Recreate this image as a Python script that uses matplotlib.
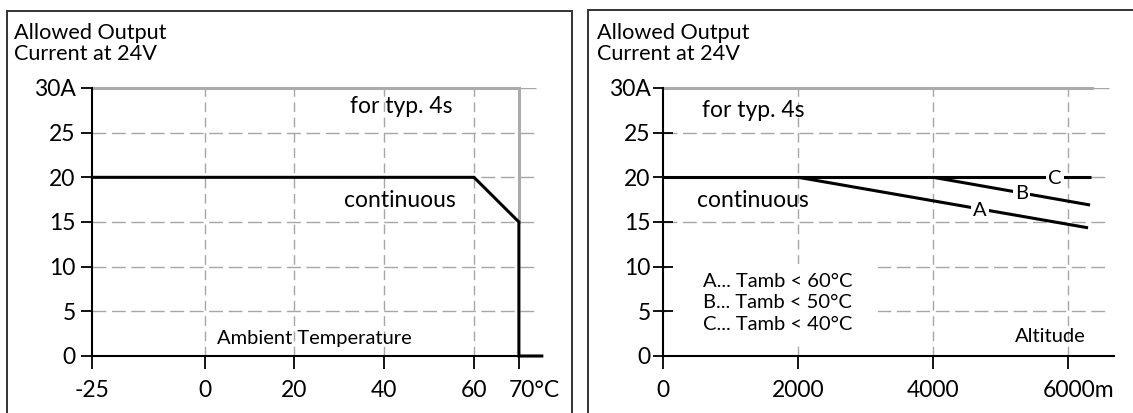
import matplotlib
matplotlib.use("Agg")
import matplotlib.pyplot as plt
from matplotlib.patches import Rectangle

plt.rcParams['font.family'] = ['Lato', 'DejaVu Sans']

# ---- data: left chart (ambient temperature) ----
temp_ticks = [-25, 0, 20, 40, 60, 70]
temp_labels = ["-25", "0", "20", "40", "60", "70°C"]
temp_cont_x = [-25, 60, 70, 70, 75.1]
temp_cont_y = [20, 20, 15, 0, 0]
temp_peak_x = [-25, 70, 70]
temp_peak_y = [30, 30, 15]

# ---- data: right chart (altitude) ----
alt_ticks = [0, 2000, 4000, 6000]
alt_labels = ["0", "2000", "4000", "6000m"]
alt_a_x = [2000, 6290]
alt_a_y = [20, 14.35]
alt_b_x = [4000, 6320]
alt_b_y = [20, 16.9]
alt_c_x = [0, 6330]
alt_c_y = [20, 20]
alt_peak_x = [0, 6350]
alt_peak_y = [30, 30]

cur_ticks = [0, 5, 10, 15, 20, 25, 30]
cur_labels = ["0", "5", "10", "15", "20", "25", "30A"]
legend_lines = ["A... Tamb < 60°C", "B... Tamb < 50°C", "C... Tamb < 40°C"]

W, H = 1133, 413
fig = plt.figure(figsize=(W / 100, H / 100), dpi=100)

GRID = '#a6a6a6'
PEAK = '#ababab'
BIG = 16.5
SMALL = 14.5
TITLE = 15.6
HDASH = (0, (10, 4))
VDASH = (0, (7, 4))

# frames
fig.add_artist(Rectangle((7 / W, -0.1), (572 - 7) / W, 1 - 11 / H + 0.1,
                         transform=fig.transFigure, fill=False, ec='#333333', lw=1.4))
fig.add_artist(Rectangle((587.5 / W, -0.1), 0.5, 1 - 9.5 / H + 0.1,
                         transform=fig.transFigure, fill=False, ec='#333333', lw=1.4))

for x0 in [13.8, 597]:
    fig.text(x0 / W, 1 - 39 / H, "Allowed Output", fontsize=TITLE, va='baseline', ha='left')
    fig.text(x0 / W, 1 - 60 / H, "Current at 24V", fontsize=TITLE, va='baseline', ha='left')


def style_axes(ax, xlim, ticks, labels, unit_shift, ytick_dir):
    ax.set_xlim(*xlim)
    ax.set_ylim(0, 30)
    for s in ['top', 'right']:
        ax.spines[s].set_visible(False)
    for s in ['left', 'bottom']:
        ax.spines[s].set_linewidth(1.5)
        ax.spines[s].set_zorder(4)
    ax.set_yticks(cur_ticks, cur_labels)
    ax.set_xticks(ticks, [''] * len(ticks))
    ax.tick_params(axis='y', direction=ytick_dir, length=14 if ytick_dir == 'inout' else 8,
                   width=1.3, labelsize=BIG, pad=4 if ytick_dir == 'out' else 2)
    ax.tick_params(axis='x', direction='out', length=9, width=1.3)
    for i, (t, lab) in enumerate(zip(ticks, labels)):
        dx = unit_shift if i == len(ticks) - 1 else 0
        ax.annotate(lab, xy=(t, 0), xycoords=('data', 'axes fraction'),
                    xytext=(dx, -24.5), textcoords='offset points',
                    ha='center', va='center', fontsize=BIG, annotation_clip=False)
    ax.patch.set_visible(False)


# ---- left chart ----
ax1 = fig.add_axes([92.4 / W, 1 - 356 / H, (541.8 - 92.4) / W, (356 - 88) / H])
style_axes(ax1, (-25, 75.1), temp_ticks, temp_labels, 11, 'out')
ax1.hlines(cur_ticks[1:-1], -25, 73.9, colors=GRID, lw=1.0, linestyles=HDASH, zorder=1)
ax1.hlines([30], 70, 73.9, colors=GRID, lw=1.0, zorder=1)
ax1.vlines(temp_ticks[1:-1], 0, 30, colors=GRID, lw=1.0, linestyles=VDASH, zorder=1)
ax1.plot(temp_peak_x, temp_peak_y, color=PEAK, lw=2.2, zorder=2, clip_on=False,
         solid_joinstyle='miter')
ax1.plot(temp_cont_x, temp_cont_y, color='black', lw=2.2, zorder=3, clip_on=False,
         solid_joinstyle='miter')
ax1.text(43.9, 27.2, "for typ. 4s", fontsize=BIG, ha='center', va='baseline')
ax1.text(43.5, 16.7, "continuous", fontsize=BIG, ha='center', va='baseline')
ax1.text(24.4, 1.3, "Ambient Temperature", fontsize=SMALL, ha='center', va='baseline')

# ---- right chart ----
ax2 = fig.add_axes([663.2 / W, 1 - 356 / H, (1114 - 663.2) / W, (356 - 88) / H])
style_axes(ax2, (0, 6674), alt_ticks, alt_labels, 7, 'inout')
ax2.hlines(cur_ticks[1:-1], 0, 6594, colors=GRID, lw=1.0, linestyles=HDASH, zorder=1)
ax2.hlines([30], 6350, 6594, colors=GRID, lw=1.0, zorder=1)
ax2.vlines(alt_ticks[1:], 0, 30, colors=GRID, lw=1.0, linestyles=VDASH, zorder=1)
ax2.add_patch(Rectangle((60, 1.5), 3115, 8.8, fc='white', ec='none', zorder=1.5))
ax2.plot(alt_peak_x, alt_peak_y, color=PEAK, lw=2.2, zorder=2, clip_on=False)
for xs, ys in [(alt_c_x, alt_c_y), (alt_b_x, alt_b_y), (alt_a_x, alt_a_y)]:
    ax2.plot(xs, ys, color='black', lw=2.2, zorder=3, solid_capstyle='butt')
lab_box = dict(fc='white', ec='none', pad=1.5)
ax2.text(4690, 16.3, "A", fontsize=SMALL, ha='center', va='center', bbox=lab_box, zorder=5)
ax2.text(5307, 18.2, "B", fontsize=SMALL, ha='center', va='center', bbox=lab_box, zorder=5)
ax2.text(5800, 19.9, "C", fontsize=SMALL, ha='center', va='center', bbox=lab_box, zorder=5)
ax2.text(575, 26.8, "for typ. 4s", fontsize=BIG, ha='left', va='baseline')
ax2.text(494, 16.7, "continuous", fontsize=BIG, ha='left', va='baseline')
for i, line in enumerate(legend_lines):
    ax2.text(585, 7.76 - 2.43 * i, line, fontsize=SMALL, ha='left', va='baseline', zorder=5)
ax2.text(5731, 1.6, "Altitude", fontsize=SMALL, ha='center', va='baseline')

fig.savefig("out.png", dpi=100)
